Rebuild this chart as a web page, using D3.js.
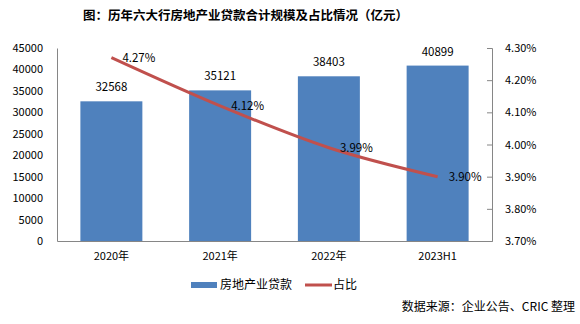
<!DOCTYPE html>
<html><head><meta charset="utf-8">
<script src="https://cdn.jsdelivr.net/npm/d3@7"></script>
<style>body{margin:0;background:#fff}svg{display:block}text{font-family:"Noto Sans CJK SC","Liberation Sans",sans-serif}</style>
</head><body><svg id="c" width="580" height="324"></svg>
<script>
const categories = ["2020年","2021年","2022年","2023H1"];
const loans = [32568, 35121, 38403, 40899];
const shares = [4.27, 4.12, 3.99, 3.90];
const leftTicks = [0,5000,10000,15000,20000,25000,30000,35000,40000,45000];
const rightTicks = [3.70,3.80,3.90,4.00,4.10,4.20,4.30];

const svg = d3.select("#c");
const L = 57, R = 492, T = 48, B = 241;
const x = d3.scaleBand().domain(categories).range([L, R]).paddingInner(0.43).paddingOuter(0.215);
const y = d3.scaleLinear().domain([0, 45000]).range([B, T]);
const y2 = d3.scaleLinear().domain([3.70, 4.30]).range([B, T]);
const axisCol = "#868686";

svg.append("text").attr("x", 83).attr("y", 20).attr("font-size", 12.5).attr("font-weight", "bold")
  .attr("fill", "#000").text("图：历年六大行房地产业贷款合计规模及占比情况（亿元）");

// left axis
const gl = svg.append("g").attr("transform", `translate(${L},0)`)
  .call(d3.axisLeft(y).tickValues(leftTicks).tickSize(0).tickPadding(14).tickFormat(d3.format("d")));
gl.select(".domain").attr("stroke", axisCol);
gl.selectAll("text").attr("font-size", 11).attr("fill", "#000").attr("font-family", "'Liberation Sans',sans-serif");

// right axis
const gr = svg.append("g").attr("transform", `translate(${R},0)`)
  .call(d3.axisRight(y2).tickValues(rightTicks).tickSize(-5).tickPadding(13).tickFormat(d => d.toFixed(2) + "%"));
gr.select(".domain").attr("stroke", axisCol);
gr.selectAll(".tick line").attr("stroke", axisCol);
gr.selectAll("text").attr("font-size", 11).attr("fill", "#000").attr("font-family", "'Liberation Sans',sans-serif");

// bottom axis
const gb = svg.append("g").attr("transform", `translate(0,${B})`)
  .call(d3.axisBottom(x).tickSize(0).tickPadding(11));
gb.select(".domain").attr("stroke", axisCol);
gb.selectAll("text").attr("font-size", 11).attr("fill", "#000");

// bars
svg.selectAll(".bar").data(loans).join("rect").attr("class", "bar")
  .attr("x", (d, i) => x(categories[i])).attr("width", x.bandwidth())
  .attr("y", d => y(d)).attr("height", d => B - y(d)).attr("fill", "#4F81BD");
svg.selectAll(".bl").data(loans).join("text").attr("class", "bl")
  .attr("x", (d, i) => x(categories[i]) + x.bandwidth() / 2).attr("y", d => y(d) - 10)
  .attr("text-anchor", "middle").attr("font-size", 11.5).attr("fill", "#000")
  .attr("font-family", "'Liberation Sans',sans-serif").text(d => d);

// line
const cx = (i) => x(categories[i]) + x.bandwidth() / 2;
const line = d3.line().x((d, i) => cx(i)).y(d => y2(d)).curve(d3.curveMonotoneX);
svg.append("path").datum(shares).attr("d", line).attr("fill", "none")
  .attr("stroke", "#C0504D").attr("stroke-width", 3);
svg.selectAll(".pl").data(shares).join("text").attr("class", "pl")
  .attr("x", (d, i) => cx(i) + 11).attr("y", d => y2(d) + 4)
  .attr("font-size", 11.5).attr("fill", "#000")
  .attr("font-family", "'Liberation Sans',sans-serif").text(d => d.toFixed(2) + "%");

// legend
svg.append("rect").attr("x", 191).attr("y", 282).attr("width", 26).attr("height", 6).attr("fill", "#4F81BD");
svg.append("text").attr("x", 220).attr("y", 289).attr("font-size", 12).attr("fill", "#000").text("房地产业贷款");
svg.append("line").attr("x1", 305).attr("x2", 332).attr("y1", 285).attr("y2", 285).attr("stroke", "#C0504D").attr("stroke-width", 3);
svg.append("text").attr("x", 333).attr("y", 289).attr("font-size", 12).attr("fill", "#000").text("占比");

svg.append("text").attr("x", 575).attr("y", 311).attr("text-anchor", "end").attr("font-size", 12).attr("fill", "#000").text("数据来源：企业公告、CRIC 整理");
</script></body></html>
